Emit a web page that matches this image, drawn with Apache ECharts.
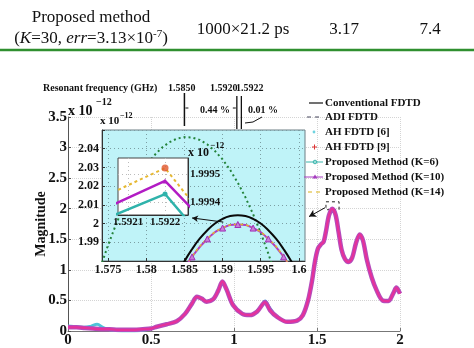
<!DOCTYPE html>
<html><head><meta charset="utf-8">
<script src="https://cdn.jsdelivr.net/npm/echarts@6.0.0/dist/echarts.min.js"></script>
<style>html,body{margin:0;padding:0;background:#fff}#c{width:474px;height:348px}</style>
</head><body><div id="c"></div>
<script>
// ---------- data ----------
const mainFreq = [0,0.05,0.1,0.15,0.2,0.25,0.3,0.35,0.4,0.45,0.5,0.535,0.595,0.655,0.705,0.745,0.777,0.805,0.835,0.875,0.905,0.93,0.955,0.995,1.05,1.095,1.14,1.187,1.217,1.26,1.32,1.38,1.415,1.446,1.47,1.488,1.506,1.525,1.54,1.554,1.572,1.592,1.612,1.63,1.648,1.668,1.69,1.712,1.735,1.757,1.777,1.8,1.83,1.86,1.895,1.93,1.96,1.978,2.0];
const mainMag = [0.06,0.06,0.05,0.04,0.03,0.03,0.02,0.02,0.02,0.03,0.04,0.07,0.11,0.16,0.28,0.44,0.56,0.53,0.48,0.52,0.66,0.81,0.68,0.42,0.28,0.26,0.32,0.47,0.34,0.23,0.15,0.17,0.26,0.5,0.82,1.14,1.35,1.42,1.46,1.63,1.89,2.0,1.9,1.62,1.33,1.18,1.13,1.2,1.44,1.58,1.48,1.17,0.87,0.66,0.5,0.49,0.62,0.71,0.61];
const ah6LowFreq = [0,0.05,0.1,0.14,0.175,0.21,0.25,0.3,0.35,0.4,0.45,0.5,0.55,0.6];
const ah6LowMag = [0.08,0.07,0.06,0.08,0.11,0.06,0.02,0.005,0.0,0.0,0.01,0.04,0.08,0.12];
const ah6BumpFreq = [1.14,1.165,1.187,1.21,1.235];
const ah6BumpMag = [0.33,0.41,0.49,0.4,0.3];

// zoom inset (resonance)
const adiFreq = [1.574,1.575,1.576,1.577,1.578,1.579,1.580,1.581,1.582,1.583,1.584,1.585,1.586,1.587,1.588,1.589,1.590,1.591,1.592,1.593,1.594,1.595,1.596,1.597];
const adiMag = [1.9767,1.9885,1.9992,2.0088,2.0173,2.0247,2.0310,2.0362,2.0404,2.0434,2.0454,2.0462,2.0460,2.0447,2.0423,2.0388,2.0343,2.0286,2.0218,2.0140,2.0050,1.9950,1.9839,1.9717];
const convFreq = [1.584,1.585,1.586,1.587,1.588,1.589,1.590,1.591,1.592,1.593,1.594,1.595,1.596,1.597,1.598,1.599,1.600];
const convMag = [1.9722,1.9798,1.9863,1.9919,1.9964,2.0000,2.0025,2.0040,2.0045,2.0040,2.0025,2.0000,1.9964,1.9919,1.9863,1.9798,1.9722];
const propFreq = [1.584,1.586,1.588,1.590,1.592,1.594,1.596,1.598,1.600];
const k10Mag = [1.9688,1.9822,1.9918,1.9976,1.9995,1.9976,1.9918,1.9822,1.9688];
const k14Mag = [1.9689,1.9823,1.9919,1.9977,1.9995,1.9977,1.9919,1.9823,1.9689];
const insetTicks = [1.575,1.58,1.585,1.59,1.595,1.6];

// inner inset (peak detail)
const innerFreq = [1.5920,1.5922,1.5924];
const innerK14 = [1.99940,1.999523,1.99919];
const innerK10 = [1.999355,1.999477,1.999202];
const innerK6 = [1.99932,1.99943,1.99912];
const innerAh9Freq = [1.5922];
const innerAh9Mag = [1.999523];
const innerXTicks = [1.5921,1.5922];
const innerYTicks = [1.9994,1.9995];

const legendNames = ['Conventional FDTD','ADI FDTD','AH FDTD [6]','AH FDTD [9]','Proposed Method (K=6)','Proposed Method (K=10)','Proposed Method (K=14)'];

// ---------- helpers ----------
const SERIF = "'Liberation Serif','Times New Roman',serif";
const zip = (a,b)=>a.map((x,i)=>[x,b[i]]);
function txt(x,y,s,size,opt){
  opt=opt||{};
  return {type:'text', x:x, y:y, z:100, silent:true,
    style:Object.assign({text:s, fontSize:size, fontFamily:SERIF, fontWeight:opt.normal?'normal':'bold', fill:'#111', align:opt.align||'left', verticalAlign:'middle'}, opt.style||{})};
}
function line(x1,y1,x2,y2,color,w,dash){
  return {type:'line', z:100, silent:true, shape:{x1,y1,x2,y2}, style:{stroke:color, lineWidth:w, lineDash:dash||null}};
}
const axisLbl = (size)=>({fontFamily:SERIF, fontWeight:'bold', fontSize:size, color:'#111'});

const chart = echarts.init(document.getElementById('c'), null, {renderer:'canvas'});

const option = {
  animation:false,
  backgroundColor:'#fff',
  grid:[
    {left:68, right:74, top:117, bottom:14, show:false, z:0},
    {left:102, right:169, top:130, bottom:87, show:true, backgroundColor:'#bff3f8', borderColor:'#6d7f85', borderWidth:1, z:3},
    {left:118, right:286, top:158, bottom:133, show:true, backgroundColor:'#ffffff', borderColor:'#444', borderWidth:1, z:6}
  ],
  xAxis:[
    {gridIndex:0, type:'value', min:0, max:2, interval:0.5, z:0,
     axisLine:{show:true, lineStyle:{color:'#777', width:1}},
     axisTick:{show:true, inside:true, length:3, lineStyle:{color:'#777'}},
     axisLabel:Object.assign(axisLbl(15),{margin:2, formatter:v=>String(v)}),
     splitLine:{show:true, lineStyle:{color:'#d4d4d4', type:'dotted'}}},
    {gridIndex:1, type:'value', min:1.5742, max:1.6008, z:4,
     axisLine:{show:true, onZero:false, lineStyle:{color:'#333'}},
     axisTick:{show:true, inside:true, length:3, customValues:insetTicks, lineStyle:{color:'#333'}},
     axisLabel:Object.assign(axisLbl(12),{margin:3, customValues:insetTicks, formatter:v=>String(+(+v).toFixed(3))}),
     splitLine:{show:true, lineStyle:{color:'#7c9ea3', type:[1,3]}}},
    {gridIndex:2, type:'value', min:1.592073, max:1.592262, z:7,
     axisLine:{show:true, onZero:false, lineStyle:{color:'#333'}},
     axisTick:{show:false, customValues:innerXTicks},
     axisLabel:Object.assign(axisLbl(11),{margin:2, customValues:innerXTicks, formatter:v=>(+v).toFixed(4)}),
     splitLine:{show:true, lineStyle:{color:'#bbb', type:[1,3]}}}
  ],
  yAxis:[
    {gridIndex:0, type:'value', min:0, max:3.5, interval:0.5, z:0,
     name:'Magnitude', nameLocation:'middle', nameGap:20, nameRotate:90, nameMoveOverlap:false,
     nameTextStyle:{fontFamily:SERIF, fontWeight:'bold', fontSize:14, color:'#111'},
     axisLine:{show:true, lineStyle:{color:'#555', width:1}},
     axisTick:{show:true, inside:true, length:3, lineStyle:{color:'#555'}},
     axisLabel:Object.assign(axisLbl(15),{margin:1, formatter:v=>String(v)}),
     splitLine:{show:true, lineStyle:{color:'#d4d4d4', type:'dotted'}}},
    {gridIndex:1, type:'value', min:1.98, max:2.05, interval:0.01, z:4,
     axisLine:{show:true, onZero:false, lineStyle:{color:'#333'}},
     axisTick:{show:true, inside:true, length:3, lineStyle:{color:'#333'}},
     axisLabel:Object.assign(axisLbl(12),{margin:3, formatter:v=>(v<1.985||v>2.045)?'':String(+(+v).toFixed(2))}),
     splitLine:{show:true, lineStyle:{color:'#7c9ea3', type:[1,3]}}},
    {gridIndex:2, type:'value', position:'right', min:1.999355, max:1.999559, z:7,
     axisLine:{show:true, onZero:false, lineStyle:{color:'#333'}},
     axisTick:{show:false, customValues:innerYTicks},
     axisLabel:Object.assign(axisLbl(11),{margin:2, customValues:innerYTicks, formatter:v=>(+v).toFixed(4)}),
     splitLine:{show:true, lineStyle:{color:'#bbb', type:[1,3]}}}
  ],
  series:[
    // main plot
    {name:'AH FDTD [6]', type:'line', xAxisIndex:0, yAxisIndex:0, data:zip(ah6LowFreq,ah6LowMag), smooth:0.4, symbol:'none', z:2, lineStyle:{color:'#4fc3d8', width:3}},
    {name:'AH FDTD [6]', type:'line', xAxisIndex:0, yAxisIndex:0, data:zip(ah6BumpFreq,ah6BumpMag), smooth:0.4, symbol:'none', z:2, lineStyle:{color:'#5a8fd8', width:3}},
    {name:'Proposed Method (K=6)', type:'line', xAxisIndex:0, yAxisIndex:0, data:zip(mainFreq,mainMag), smooth:0.3, symbol:'none', z:2, lineStyle:{color:'#b44cbc', width:4.5}},
    {name:'Proposed Method (K=10)', type:'line', xAxisIndex:0, yAxisIndex:0, data:zip(mainFreq,mainMag), smooth:0.3, symbol:'none', z:2, lineStyle:{color:'#e6319a', width:2.2},
     markLine:{silent:true, animation:false, symbol:['none','arrow'], symbolSize:[6,7], label:{show:false}, lineStyle:{color:'#111', width:1, type:'solid'},
       data:[[{coord:[1.548,2.016]},{coord:[1.452,1.871]}]]},
     markArea:{silent:true, itemStyle:{color:'rgba(0,0,0,0)', borderColor:'#222', borderWidth:1, borderType:[3,3]},
       data:[[{coord:[1.554,2.113]},{coord:[1.633,1.984]}]]}},
    // resonance inset
    {name:'ADI FDTD', type:'line', xAxisIndex:1, yAxisIndex:1, data:zip(adiFreq,adiMag), symbol:'none', z:5, lineStyle:{color:'#23833a', width:2, type:[2,3]}},
    {name:'Conventional FDTD', type:'line', xAxisIndex:1, yAxisIndex:1, data:zip(convFreq,convMag), smooth:true, symbol:'none', z:5, lineStyle:{color:'#0a0a0a', width:2},
     markLine:{silent:true, animation:false, symbol:['none','arrow'], symbolSize:[5,6], label:{show:false}, lineStyle:{color:'#111', width:1, type:'solid'},
       data:[[{coord:[1.5901,2.0008]},{coord:[1.5860,2.003]}]]},
     markArea:{silent:true, itemStyle:{color:'rgba(0,0,0,0)', borderColor:'#222', borderWidth:1, borderType:[3,2]},
       data:[[{coord:[1.5907,2.0019]},{coord:[1.5929,1.996]}]]}},
    {name:'Proposed Method (K=10)', type:'line', xAxisIndex:1, yAxisIndex:1, data:zip(propFreq,k10Mag), smooth:true, symbol:'triangle', symbolSize:6, z:5,
     lineStyle:{color:'#b03cc4', width:2}, itemStyle:{color:'#c77fd6', borderColor:'#a030b8', borderWidth:1}},
    {name:'Proposed Method (K=14)', type:'line', xAxisIndex:1, yAxisIndex:1, data:zip(propFreq,k14Mag), smooth:true, symbol:'none', z:5, lineStyle:{color:'#e2b22e', width:1.5, type:[3,3]}},
    // inner inset
    {name:'Proposed Method (K=14)', type:'line', xAxisIndex:2, yAxisIndex:2, data:zip(innerFreq,innerK14), symbol:'none', z:8, lineStyle:{color:'#e6b832', width:2, type:[3,3]}},
    {name:'Proposed Method (K=10)', type:'line', xAxisIndex:2, yAxisIndex:2, data:zip(innerFreq,innerK10), symbol:'triangle', symbolSize:5, z:8, lineStyle:{color:'#b21cc4', width:2.5}, itemStyle:{color:'#b21cc4'}},
    {name:'Proposed Method (K=6)', type:'line', xAxisIndex:2, yAxisIndex:2, data:zip(innerFreq,innerK6), symbol:'circle', symbolSize:5, z:8, lineStyle:{color:'#2fb3ab', width:2.5}, itemStyle:{color:'#2fb3ab'}},
    {name:'AH FDTD [9]', type:'scatter', xAxisIndex:2, yAxisIndex:2, data:zip(innerAh9Freq,innerAh9Mag), symbol:'circle', symbolSize:7, z:9, itemStyle:{color:'#e0562c'}}
  ]
};
chart.setOption(option);

// ---------- annotations (positions derived from the inset scale) ----------
const pA = chart.convertToPixel({gridIndex:1}, [1.585, 2.05]);
const pB = chart.convertToPixel({gridIndex:1}, [1.592, 2.05]);
const pC = chart.convertToPixel({gridIndex:1}, [1.5922, 2.05]);

const g = [];
// table fragment
g.push(txt(91,18,'Proposed method',17,{normal:true,align:'center'}));
g.push({type:'text', x:91, y:39, z:100, silent:true, style:{text:'({i|K}=30, {i|err}=3.13×10{s|-7})', rich:{i:{fontStyle:'italic', fontSize:17, fontFamily:SERIF}, s:{fontSize:11, fontFamily:SERIF, verticalAlign:'top', lineHeight:20}}, fontSize:17, fontFamily:SERIF, fill:'#111', align:'center', verticalAlign:'middle'}});
g.push(txt(243,30,'1000×21.2 ps',17,{normal:true,align:'center'}));
g.push(txt(344,30,'3.17',17,{normal:true,align:'center'}));
g.push(txt(430,30,'7.4',17,{normal:true,align:'center'}));
g.push(line(0,50,474,50,'#2f8f2f',2.5));
// resonant frequency header
g.push(txt(43,88,'Resonant frequency (GHz)',10));
g.push(txt(168,88,'1.5850',10));
g.push(txt(210,88,'1.5920',10));
g.push(txt(236,88,'1.5922',10));
g.push(line(pA[0],93,pA[0],126,'#111',1.5));
g.push(line(pB[0]-1,96,pB[0]-1,129,'#111',1.3));
g.push(line(pC[0]+2,96,pC[0]+2,129,'#111',1.3));
g.push(line(pA[0]+1,108,pA[0]+4,108,'#111',1));
g.push(line(pB[0]-5,108,pB[0]-2,108,'#111',1));
g.push(txt(200,110,'0.44 %',10));
g.push(txt(248,110,'0.01 %',10));
g.push({type:'polyline', z:100, silent:true, shape:{points:[[262,117],[253,122],[245,123]]}, style:{stroke:'#111', lineWidth:1, fill:null}});
// scale factors
g.push(txt(68,111,'x 10',14));
g.push(txt(96,102,'−12',10));
g.push(txt(100,121,'x 10',11));
g.push(txt(120,116,'−12',8));
g.push(txt(188,153,'x 10',12));
g.push(txt(210,146,'−12',9));
// legend
const ly = [103,117,132,147,162,177,192];
legendNames.forEach((n,i)=>g.push(txt(325,ly[i],n,11)));
g.push(line(309,ly[0],323,ly[0],'#111',1.2));
g.push(line(307,ly[1],311,ly[1],'#667',1.2));
g.push(line(315,ly[1],319,ly[1],'#667',1.2));
g.push({type:'circle', z:100, silent:true, shape:{cx:314, cy:ly[2], r:1.4}, style:{fill:'#6fd3e0'}});
g.push(line(312,ly[3],317,ly[3],'#d33',1));
g.push(line(314.5,ly[3]-2.5,314.5,ly[3]+2.5,'#d33',1));
g.push(line(306,ly[4],323,ly[4],'#38b6ad',1));
g.push({type:'circle', z:100, silent:true, shape:{cx:315, cy:ly[4], r:1.8}, style:{fill:'none', stroke:'#38b6ad', lineWidth:1}});
g.push(line(304,ly[5],323,ly[5],'#a63cc0',1));
g.push({type:'polygon', z:100, silent:true, shape:{points:[[315,ly[5]-2.5],[312.5,ly[5]+1.5],[317.5,ly[5]+1.5]]}, style:{fill:'#a63cc0'}});
g.push(line(308,ly[6],312,ly[6],'#e2c040',1.2));
g.push(line(316,ly[6],320,ly[6],'#e2c040',1.2));

chart.setOption({graphic:{elements:g}});
</script></body></html>
